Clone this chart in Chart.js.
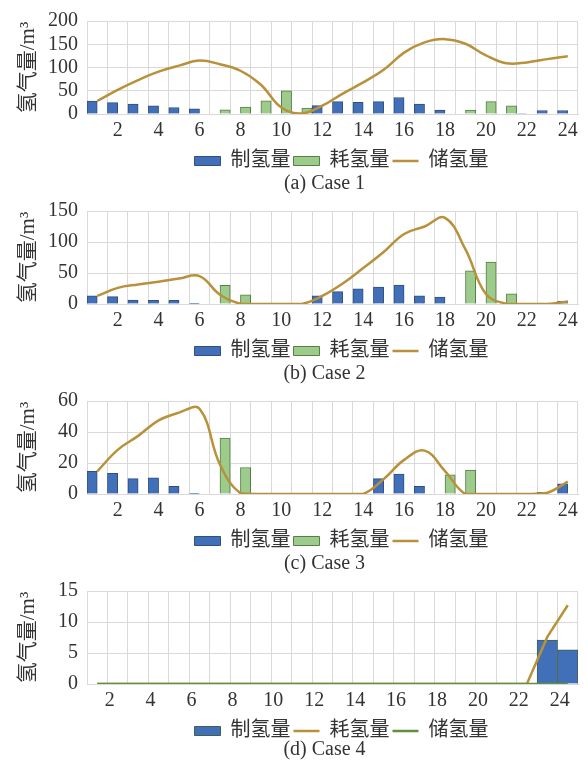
<!DOCTYPE html>
<html>
<head>
<meta charset="utf-8">
<script src="https://cdn.jsdelivr.net/npm/chart.js@4.4.1/dist/chart.umd.min.js"></script>
<style>
  html, body { margin: 0; padding: 0; background: #ffffff; overflow: hidden; }
  #wrap { position: relative; width: 587px; height: 760px; overflow: hidden; }
  .panel { position: absolute; left: 0; width: 587px; height: 197px; }
</style>
</head>
<body>
<div id="wrap">
  <div class="panel" style="top:0px"><canvas id="c1"></canvas></div>
  <div class="panel" style="top:190px"><canvas id="c2"></canvas></div>
  <div class="panel" style="top:380px"><canvas id="c3"></canvas></div>
  <div class="panel" style="top:570px"><canvas id="c4"></canvas></div>
</div>
<script>
// Hours of the day (category axis)
const hours = ['1','2','3','4','5','6','7','8','9','10','11','12',
               '13','14','15','16','17','18','19','20','21','22','23','24'];

// Series names
const seriesNames = ['制氢量', '耗氢量', '储氢量'];
const yTitle = '氢气量/m³';
const captions = ['(a) Case 1', '(b) Case 2', '(c) Case 3', '(d) Case 4'];

// Case 1
const prod1  = [28, 24.5, 21.5, 17.5, 14, 11, 0, 0, 0, 0, 0, 18, 26.5, 25, 26.5, 35.5, 21.5, 8.5, 0, 0, 0, 1, 7.5, 7.5];
const cons1  = [0, 0, 0, 0, 0, 0, 9, 15, 28.5, 50, 12.5, 0, 0, 0, 0, 0, 0, 0, 8.5, 26.5, 17.5, 0, 0, 0];
const store1 = [28, 52, 73, 91, 104, 115, 107, 93, 63, 14, 1, 18, 44, 68, 95, 132, 154, 161, 151, 126, 109, 111, 118, 124];

// Case 2
const prod2  = [13, 12, 6.3, 5.8, 5.8, 1, 0, 0, 0, 0, 0, 13, 20, 24.5, 27.3, 30.4, 13, 11, 0, 0, 0, 0, 0, 4.5];
const cons2  = [0, 0, 0, 0, 0, 0, 30, 14.7, 0, 0, 0, 0, 0, 0, 0, 0, 0, 0, 53.5, 67.5, 16.3, 0, 0, 0];
const store2 = [13, 26, 31.5, 36, 41, 45, 15, 0.5, 0, 0, 0, 13, 33, 58, 84, 113, 125, 139, 88, 16, 0.5, 0, 0, 4];

// Case 3
const prod3  = [14.6, 13.3, 9.9, 10.4, 4.9, 0.4, 0, 0, 0, 0, 0, 0, 0, 0, 9.9, 12.9, 4.9, 0, 0, 0, 0, 0, 1.1, 6.6];
const cons3  = [0, 0, 0, 0, 0, 0, 36, 17.1, 0, 0, 0, 0, 0, 0, 0, 0, 0, 12.4, 15.4, 0, 0, 0, 0, 0];
const store3 = [14.6, 28.5, 37.5, 47.5, 52.5, 55, 19, 0.5, 0, 0, 0, 0, 0, 0, 9.6, 22, 28, 14.8, 0, 0, 0, 0, 0.8, 8];

// Case 4
const prod4  = [0, 0, 0, 0, 0, 0, 0, 0, 0, 0, 0, 0, 0, 0, 0, 0, 0, 0, 0, 0, 0, 0, 7.1, 5.5];
const cons4  = [0, 0, 0, 0, 0, 0, 0, 0, 0, 0, 0, 0, 0, 0, 0, 0, 0, 0, 0, 0, 0, 0, 7.6, 12.7];
const store4 = [0, 0, 0, 0, 0, 0, 0, 0, 0, 0, 0, 0, 0, 0, 0, 0, 0, 0, 0, 0, 0, 0, 0, 0];

// Y-axis ranges per case: [max, step]
const yRanges = [[200, 50], [150, 50], [60, 20], [15, 5]];

const FONT = "'Liberation Serif', 'Noto Sans CJK SC', serif";
const TEXT = '#333333';
const GRID = '#d9d9d9';
const BLUE = '#4170b8', BLUE_EDGE = '#2f4f7f';
const GREEN = '#9dcb8b', GREEN_EDGE = '#557f45';
const GOLD = '#b8913a';
const LEAF = '#5f8f3f';

Chart.defaults.font.family = FONT;
Chart.defaults.color = TEXT;

// Nudges the legend and caption boxes sideways after layout
const boxShift = {
  id: 'boxShift',
  afterLayout(chart, args, opts) {
    const lg = chart.legend, tt = chart.titleBlock;
    if (lg) { lg.left += opts.legendDx; lg.right += opts.legendDx; }
    if (tt) { tt.left += opts.titleDx; tt.right += opts.titleDx; }
  }
};

function barSet(label, data, fill, edge, order) {
  return {
    type: 'bar', label, data, order,
    backgroundColor: fill, borderColor: edge, borderWidth: 1,
    categoryPercentage: 1.0, barPercentage: 1.0,
    pointStyle: 'rect'
  };
}
function lineSet(label, data, color, order, tension) {
  return {
    type: 'line', label, data, order,
    borderColor: color, backgroundColor: color, borderWidth: 2.5,
    pointRadius: 0, pointHoverRadius: 0, tension,
    pointStyle: 'line'
  };
}

function makePanel(id, datasets, yMax, yStep, caption, labelOffset, captionLift) {
  new Chart(document.getElementById(id), {
    data: { labels: hours, datasets },
    plugins: [boxShift],
    options: {
      responsive: true,
      maintainAspectRatio: false,
      animation: false,
      layout: { padding: { top: 9, right: 9, left: 0, bottom: 0 } },
      plugins: {
        tooltip: { enabled: false },
        boxShift: { legendDx: 9, titleDx: -8 },
        legend: {
          position: 'bottom', fullSize: false,
          labels: {
            usePointStyle: true, pointStyleWidth: 26, boxHeight: 9,
            padding: 3, color: TEXT,
            font: { size: 20, family: FONT },
            sort: (a, b) => a.datasetIndex - b.datasetIndex
          }
        },
        title: {
          display: true, text: caption, position: 'bottom', fullSize: false,
          color: TEXT, font: { size: 20, weight: 'normal', family: FONT, lineHeight: 1 },
          padding: { top: -4 - captionLift, bottom: captionLift }
        }
      },
      scales: {
        x: {
          offset: true,
          grid: { color: GRID, offset: true, drawTicks: false },
          border: { color: GRID },
          ticks: {
            autoSkip: false, maxRotation: 0, padding: 7, labelOffset,
            color: TEXT, font: { size: 20, family: FONT, lineHeight: 1 },
            callback: (v, i) => (i % 2 === 1 ? hours[i] : '')
          }
        },
        y: {
          min: 0, max: yMax,
          grid: { color: GRID, drawTicks: false },
          border: { color: GRID },
          ticks: { stepSize: yStep, autoSkip: false, padding: 9, color: TEXT, font: { size: 20, family: FONT } },
          title: {
            display: true, text: yTitle, color: TEXT,
            font: { size: 21, family: FONT }, padding: { top: 16, bottom: 0 }
          },
          afterFit: (s) => { s.width = 87; }
        }
      }
    }
  });
}

makePanel('c1', [
  barSet(seriesNames[0], prod1, BLUE, BLUE_EDGE, 1),
  barSet(seriesNames[1], cons1, GREEN, GREEN_EDGE, 1),
  lineSet(seriesNames[2], store1, GOLD, 0, 0.4)
], yRanges[0][0], yRanges[0][1], captions[0], 0, 3);

makePanel('c2', [
  barSet(seriesNames[0], prod2, BLUE, BLUE_EDGE, 1),
  barSet(seriesNames[1], cons2, GREEN, GREEN_EDGE, 1),
  lineSet(seriesNames[2], store2, GOLD, 0, 0.4)
], yRanges[1][0], yRanges[1][1], captions[1], 0, 3);

makePanel('c3', [
  barSet(seriesNames[0], prod3, BLUE, BLUE_EDGE, 1),
  barSet(seriesNames[1], cons3, GREEN, GREEN_EDGE, 1),
  lineSet(seriesNames[2], store3, GOLD, 0, 0.4)
], yRanges[2][0], yRanges[2][1], captions[2], 0, 3);

// Case 4: production as bars, consumption and storage as lines
makePanel('c4', [
  barSet(seriesNames[0], prod4, BLUE, '#41604a', 2),
  lineSet(seriesNames[1], cons4, GOLD, 1, 0),
  lineSet(seriesNames[2], store4, LEAF, 0, 0)
], yRanges[3][0], yRanges[3][1], captions[3], -8, 7);
</script>
</body>
</html>
